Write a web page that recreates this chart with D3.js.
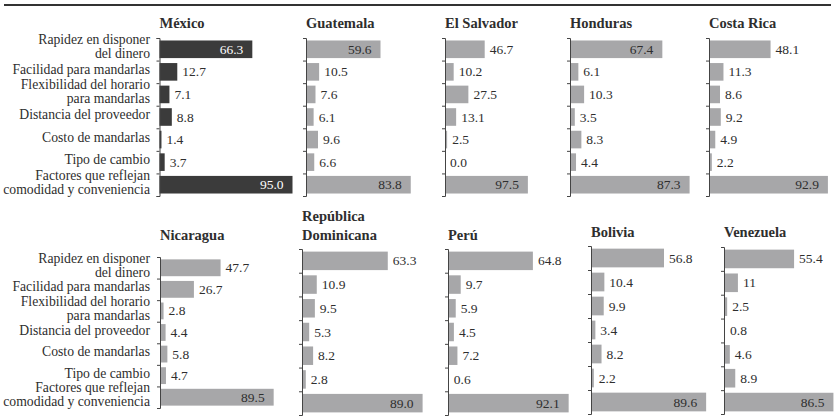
<!DOCTYPE html>
<html><head><meta charset="utf-8">
<script src="https://cdn.jsdelivr.net/npm/d3@7"></script>
<style>
html,body{margin:0;padding:0;background:#fff;}
svg{display:block;}
</style></head>
<body>
<svg id="chart" width="835" height="417"></svg>
<script>
// ---- data ----
const categories = [
  "Rapidez en disponer\ndel dinero",
  "Facilidad para mandarlas",
  "Flexibilidad del horario\npara mandarlas",
  "Distancia del proveedor",
  "Costo de mandarlas",
  "Tipo de cambio",
  "Factores que reflejan\ncomodidad y conveniencia"
];
const countries = ["México","Guatemala","El Salvador","Honduras","Costa Rica",
                   "Nicaragua","República\nDominicana","Perú","Bolivia","Venezuela"];
const mexico     = [66.3, 12.7, 7.1, 8.8, 1.4, 3.7, 95.0];
const guatemala  = [59.6, 10.5, 7.6, 6.1, 9.6, 6.6, 83.8];
const elSalvador = [46.7, 10.2, 27.5, 13.1, 2.5, 0.0, 97.5];
const honduras   = [67.4, 6.1, 10.3, 3.5, 8.3, 4.4, 87.3];
const costaRica  = [48.1, 11.3, 8.6, 9.2, 4.9, 2.2, 92.9];
const nicaragua  = [47.7, 26.7, 2.8, 4.4, 5.8, 4.7, 89.5];
const repDom     = [63.3, 10.9, 9.5, 5.3, 8.2, 2.8, 89.0];
const peru       = [64.8, 9.7, 5.9, 4.5, 7.2, 0.6, 92.1];
const bolivia    = [56.8, 10.4, 9.9, 3.4, 8.2, 2.2, 89.6];
const venezuela  = [55.4, 11, 2.5, 0.8, 4.6, 8.9, 86.5];
const series = [mexico, guatemala, elSalvador, honduras, costaRica,
                nicaragua, repDom, peru, bolivia, venezuela];
const valueLabels = series.map(arr => arr.map(v => (v === 11 ? "11" : v.toFixed(1))));

// ---- layout ----
const FONT = "'Liberation Serif', 'DejaVu Serif', serif";
const layout = [
  {x:159.5, y0:38,  y1:196, ppu:1.40,  titleY:28,  inside:55, color:"#3b3b3b", labelColor:"#fff", showCats:true},
  {x:306,   y0:38,  y1:196, ppu:1.25,  titleY:28,  inside:55},
  {x:445,   y0:38,  y1:196, ppu:0.85,  titleY:28,  inside:55},
  {x:570,   y0:38,  y1:196, ppu:1.37,  titleY:28,  inside:55},
  {x:709,   y0:38,  y1:196, ppu:1.28,  titleY:28,  inside:55},
  {x:160,   y0:257, y1:408, ppu:1.27,  titleY:240, inside:80, showCats:true},
  {x:302,   y0:249, y1:415, ppu:1.355, titleY:240, inside:80},
  {x:448,   y0:249, y1:415, ppu:1.31,  titleY:240, inside:80},
  {x:591,   y0:246, y1:414, ppu:1.285, titleY:237, inside:80},
  {x:724,   y0:247, y1:414, ppu:1.265, titleY:237, inside:80}
];
const grayBar = "#a7a7a9";
const ink = "#2e2e2e";

const svg = d3.select("#chart");

// top rule
svg.append("line").attr("x1",4).attr("x2",831).attr("y1",5).attr("y2",5)
  .attr("stroke","#333").attr("stroke-width",2);

series.forEach((vals, i) => {
  const L = layout[i];
  const g = svg.append("g");
  const x = d3.scaleLinear().domain([0,100]).range([L.x, L.x + 100*L.ppu]);
  const y = d3.scaleBand().domain(d3.range(categories.length))
    .range([L.y0, L.y1]).paddingInner(0.22).paddingOuter(0.11);

  // title
  const tLines = countries[i].split("\n");
  const title = g.append("text").attr("x", L.x).attr("y", L.titleY - (tLines.length-1)*19)
    .style("font-family", FONT).style("font-size", "14.5px").style("font-weight","bold").style("fill", ink);
  tLines.forEach((t, k) => title.append("tspan").attr("x", L.x).attr("dy", k ? 19 : 0).text(t));

  // bars
  g.selectAll("rect").data(vals).enter().append("rect")
    .attr("x", x(0)).attr("y", (d,j) => y(j))
    .attr("width", d => x(d) - x(0)).attr("height", y.bandwidth())
    .attr("fill", L.color || grayBar);

  // axis
  const tickScale = d3.scaleLinear().domain([0, categories.length]).range([L.y0, L.y1]);
  const ax = g.append("g").attr("transform", `translate(${L.x},0)`)
    .call(d3.axisLeft(tickScale).tickValues(d3.range(categories.length+1))
      .tickSize(3).tickFormat(""));
  ax.selectAll("path,line").attr("stroke", "#444").attr("stroke-width", 1);

  // value labels
  g.selectAll("text.val").data(vals).enter().append("text").attr("class","val")
    .style("font-family", FONT).style("font-size", "13.5px")
    .attr("x", d => d > L.inside ? x(d) - 9 : x(d) + 5)
    .attr("y", (d,j) => y(j) + y.bandwidth()/2 + 4.5)
    .attr("text-anchor", d => d > L.inside ? "end" : "start")
    .style("fill", d => d > L.inside ? (L.labelColor || ink) : ink)
    .text((d,j) => valueLabels[i][j]);

  // category labels
  if (L.showCats) {
    const step = (L.y1 - L.y0) / categories.length;
    categories.forEach((c, j) => {
      const cy = L.y0 + step*(j+0.5);
      const lines = c.split("\n");
      const t = g.append("text").attr("text-anchor","end")
        .style("font-family", FONT).style("font-size", "13.7px").style("fill", ink);
      const lh = 14;
      const first = lines.length === 1 ? cy + 2 : cy - 5;
      lines.forEach((ln, k) => t.append("tspan").attr("x", 150).attr("y", first + k*lh).text(ln));
    });
  }
});
</script>
</body></html>
